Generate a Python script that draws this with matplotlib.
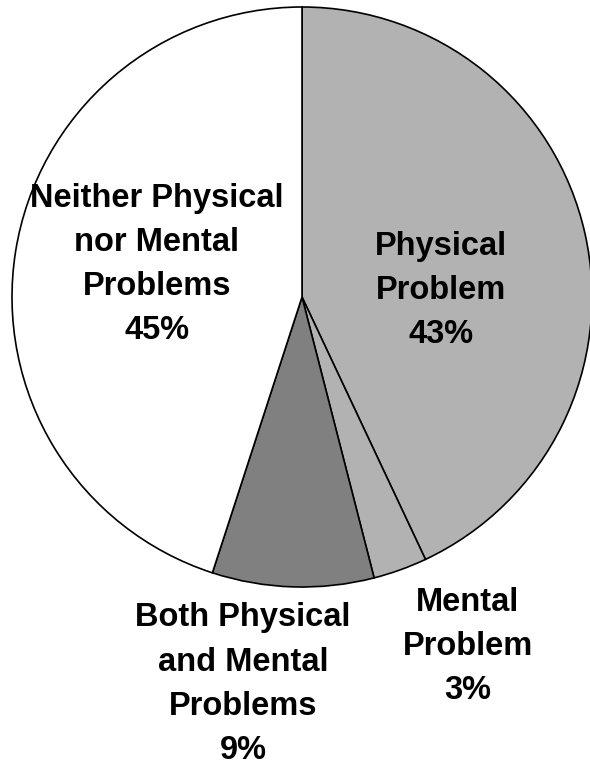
import matplotlib
matplotlib.use("Agg")
import matplotlib.pyplot as plt

# Share of people by type of health problem
categories = ["Physical\nProblem", "Mental\nProblem",
              "Both Physical\nand Mental\nProblems",
              "Neither Physical\nnor Mental\nProblems"]
shares = [43, 3, 9, 45]
colors = ["#b2b2b2", "#b2b2b2", "#808080", "#ffffff"]
# label anchor points in pie units (radius = 1)
label_pos = [(0.479, 0.022), (0.572, -1.205), (-0.203, -1.335), (-0.50, 0.112)]

plt.rcParams["font.family"] = ["Liberation Sans", "DejaVu Sans"]

fig = plt.figure(figsize=(5.90, 7.66), dpi=100)
ax = fig.add_axes([12 / 590, 1 - 587 / 766, 580 / 590, 580 / 766])

ax.pie(shares, colors=colors, startangle=90, counterclock=False, radius=1,
       wedgeprops=dict(edgecolor="black", linewidth=1.2),
       frame=False)
ax.set_xlim(-1, 1)
ax.set_ylim(-1, 1)
ax.set_aspect("equal")
ax.axis("off")

for name, val, (x, y) in zip(categories, shares, label_pos):
    ax.text(x, y, f"{name}\n{val}%", ha="center", va="center",
            fontsize=23.5, fontweight="bold", linespacing=1.55,
            clip_on=False)

fig.savefig("out.png", dpi=100)
